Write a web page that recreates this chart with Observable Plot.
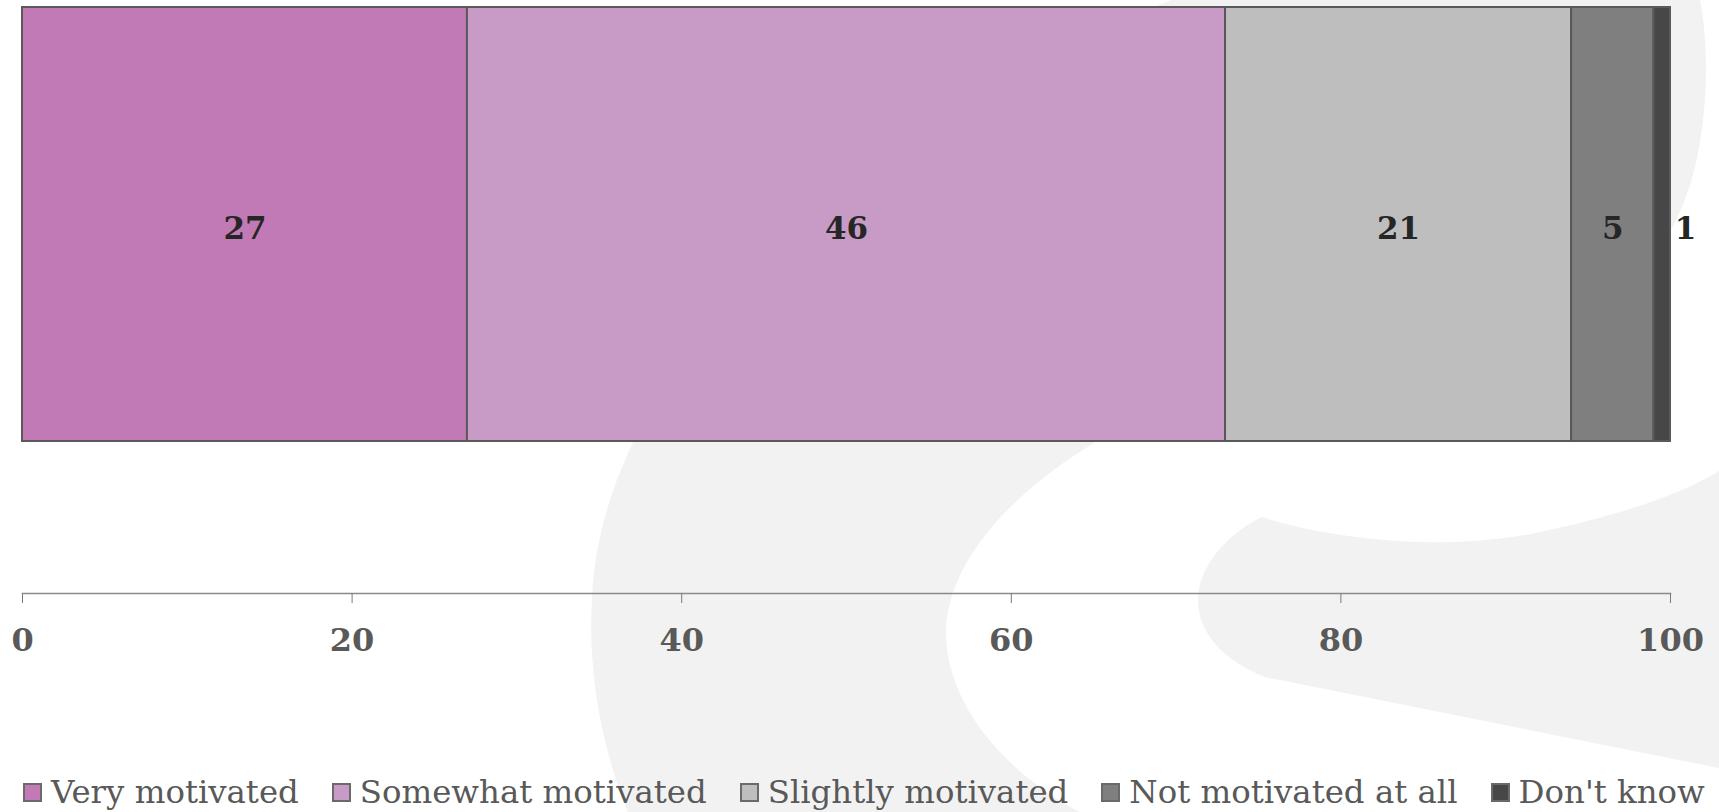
<!DOCTYPE html>
<html>
<head>
<meta charset="utf-8">
<script src="https://cdn.jsdelivr.net/npm/d3@7"></script>
<script src="https://cdn.jsdelivr.net/npm/@observablehq/plot@0.6"></script>
<style>
  html, body { margin: 0; padding: 0; background: #ffffff; overflow: hidden; }
  #wrap { position: relative; width: 1719px; height: 812px; overflow: hidden; font-family: "DejaVu Serif", serif; }
  #wm { position: absolute; left: 0; top: 0; }
  #chart { position: absolute; left: 0; top: 0; }
  #legend { position: absolute; left: 23px; top: 772px; height: 40px; display: flex; align-items: center; gap: 33px; white-space: nowrap; }
  .item { display: flex; align-items: center; font-size: 32.4px; color: #595959; }
  .sw { width: 15px; height: 15px; border: 2px solid #6a6a6a; margin-right: 9px; box-sizing: content-box; }
</style>
</head>
<body>
<div id="wrap">
  <svg id="wm" width="1719" height="812" viewBox="0 0 1719 812">
    <path fill="#f2f2f2" d="M1171,0 L1700,0 C1712,60 1708,170 1669,233 C1560,330 1250,350 1094,443 C1000,500 946,570 946,633 C946,700 1000,770 1080,812 L628,812 C598,740 588,660 592,600 C598,400 800,150 1171,0 Z"/>
    <path fill="#f2f2f2" d="M1262,517 C1330,540 1450,552 1540,532 C1620,515 1680,495 1719,471 L1719,768 L1265,677 C1222,660 1198,632 1198,600 C1198,568 1225,535 1262,517 Z"/>
  </svg>
  <div id="chart"></div>
  <div id="legend"></div>
</div>
<script>
// ---- data ----
const rowLabel = "All";
const categories = ["Very motivated", "Somewhat motivated", "Slightly motivated", "Not motivated at all", "Don't know"];
const values = [27, 46, 21, 5, 1];
const colors = ["#c17ab5", "#c89bc7", "#bfbebf", "#7f7f7f", "#474747"];
const xTicks = [0, 20, 40, 60, 80, 100];

const data = categories.map((c, i) => ({row: rowLabel, category: c, value: values[i]}));

const H = 760;
const chart = Plot.plot({
  width: 1719,
  height: H,
  marginLeft: 22,
  marginRight: 49,
  marginTop: 0,
  marginBottom: H - 593,
  style: {background: "transparent", fontFamily: "DejaVu Serif, serif", overflow: "visible"},
  x: {domain: [0, 100]},
  y: {domain: [rowLabel], range: [7, 441], padding: 0, axis: null},
  color: {domain: categories, range: colors},
  marks: [
    Plot.barX(data, Plot.stackX({x: "value", y: "row", fill: "category", stroke: "#595959", strokeWidth: 2, order: null})),
    Plot.text(data, Plot.stackX({x: "value", y: "row", order: null,
      text: d => d.value >= 3 ? String(d.value) : "",
      fontSize: 31, fontWeight: "bold", fill: "#262626", dy: 5})),
    Plot.text(data, Plot.stackX2({x: "value", y: "row", order: null,
      text: d => d.value < 3 ? String(d.value) : "",
      fontSize: 31, fontWeight: "bold", fill: "#262626", dx: 15, dy: 5})),
    Plot.frame({anchor: "bottom", stroke: "#8a8a8a", strokeWidth: 1.5}),
    Plot.axisX({ticks: xTicks, tickSize: 10, tickPadding: 25, tickFormat: d => String(d),
      fontSize: 32, fontWeight: "bold", fill: "#595959", stroke: "#7a7a7a", label: null})
  ]
});
document.getElementById("chart").appendChild(chart);

const legend = document.getElementById("legend");
categories.forEach((c, i) => {
  const item = document.createElement("div");
  item.className = "item";
  const sw = document.createElement("span");
  sw.className = "sw";
  sw.style.background = colors[i];
  const t = document.createElement("span");
  t.textContent = c;
  item.appendChild(sw);
  item.appendChild(t);
  legend.appendChild(item);
});
</script>
</body>
</html>
